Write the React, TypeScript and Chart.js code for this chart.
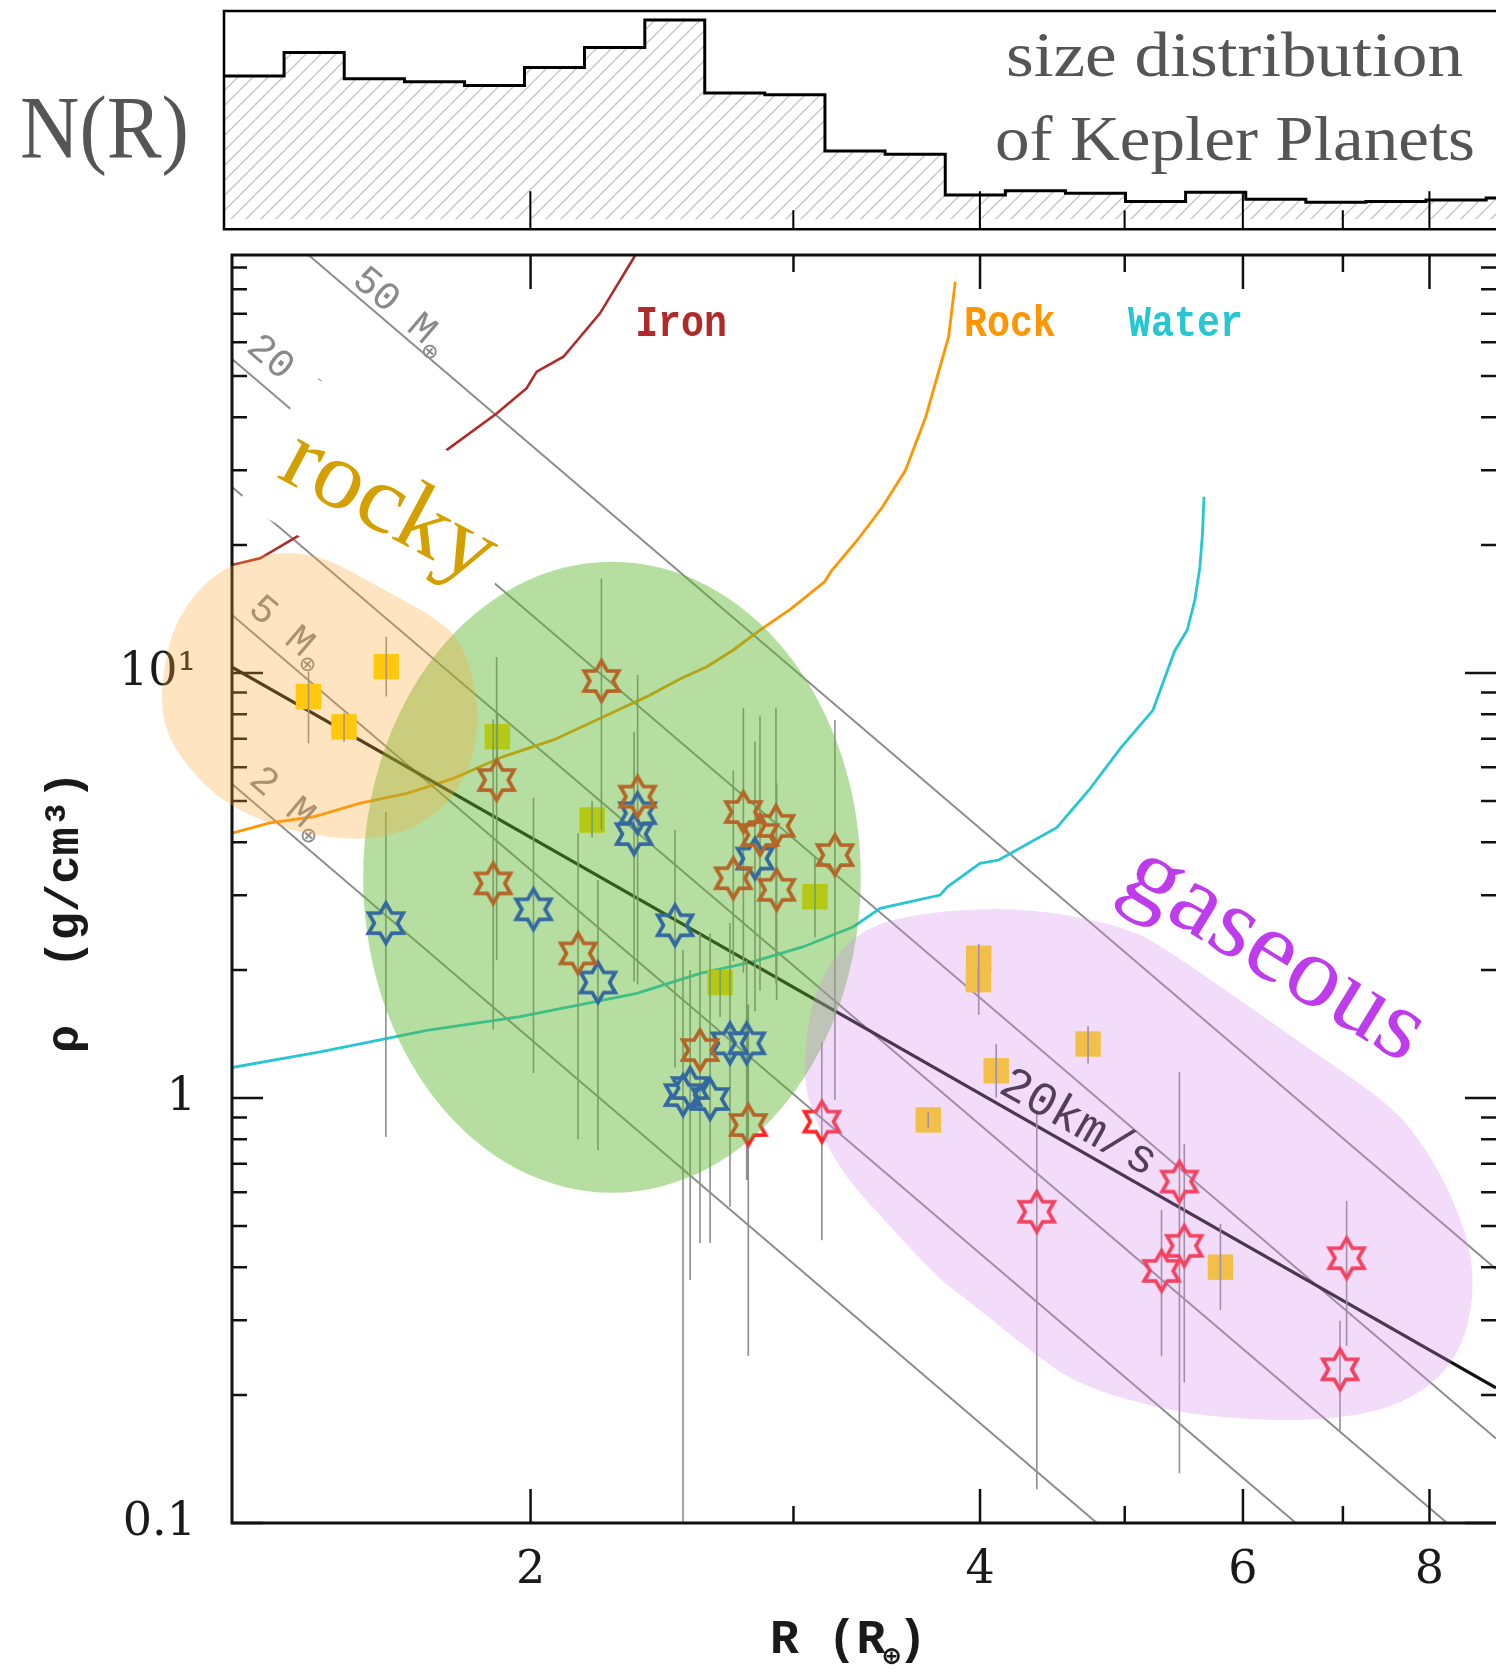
import { useEffect, useRef } from 'react';
import { Chart, registerables } from 'chart.js';

Chart.register(...registerables);

// ---------------- N(R): size distribution of Kepler planets ----------------
// bin edges (R⊕, 0.04 dex bins) and relative counts per bin
const histEdges = [1.247, 1.368, 1.501, 1.647, 1.807, 1.982, 2.174, 2.386, 2.617, 2.871, 3.15, 3.456, 3.792, 4.16, 4.564, 5.007, 5.493, 6.027, 6.612, 7.254, 7.958, 8.731, 9.579];
const histCounts = [65.7, 76.4, 64.4, 63.0, 61.3, 69.5, 78.7, 91.3, 57.8, 57.0, 31.3, 29.8, 11.1, 13.1, 11.9, 8.1, 12.4, 9.2, 7.8, 8.1, 8.8, 9.8];
const histTickValues = [2, 3, 4, 5, 6, 7, 8];

// ---------------- density vs radius ----------------
// yellow squares
const squareR = [1.42, 1.5, 1.601, 1.9, 2.199, 3.101, 2.679, 3.992, 3.99, 4.101, 4.725, 3.693, 5.795];
const squareRho = [8.8, 7.47, 10.35, 7.08, 4.51, 2.976, 1.87, 2.133, 1.899, 1.159, 1.34, 0.888, 0.4];
const squareLow = [6.84, 6.89, 8.8, 6.2, 4.1, 2.39, 1.55, 1.568, 1.75, 1.003, 1.205, 0.85, 0.317];
const squareHigh = [10.07, 8.04, 12.17, 8.1, 5.0, 3.7, 2.0, 2.303, 2.05, 1.34, 1.477, 0.93, 0.505];

// red stars
const redR = [2.231, 1.898, 2.359, 1.888, 2.777, 2.849, 2.92, 2.734, 2.923, 3.198, 2.152, 2.597, 2.798, 3.134, 4.366, 5.44, 5.292, 5.481, 7.04, 6.969];
const redRho = [9.58, 5.6, 5.12, 3.2, 4.71, 4.16, 4.37, 3.29, 3.09, 3.73, 2.19, 1.297, 0.864, 0.88, 0.54, 0.636, 0.392, 0.449, 0.42, 0.23];
const redLow = [4.27, 2.11, 1.85, 1.45, 1.97, 1.79, 1.86, 2.1, 1.7, 0.99, 0.8, 0.456, 0.247, 0.463, 0.12, 0.131, 0.247, 0.214, 0.261, 0.165];
const redHigh = [16.7, 10.9, 9.89, 7.77, 8.28, 7.9, 8.28, 5.9, 5.5, 7.75, 4.2, 2.44, 1.66, 1.35, 0.937, 1.15, 0.545, 0.779, 0.573, 0.299];

// blue stars
const blueR = [1.6, 2.009, 2.359, 2.346, 2.499, 2.827, 2.219, 2.72, 2.791, 2.53, 2.558, 2.638];
const blueRho = [2.58, 2.78, 4.68, 4.18, 2.55, 3.66, 1.87, 1.345, 1.345, 1.016, 1.056, 0.995];
const blueLow = [0.81, 1.145, 2.5, 1.88, 1.18, 1.6, 0.754, 0.554, 0.641, 0.09, 0.373, 0.456];
const blueHigh = [4.71, 5.08, 6.5, 7.27, 4.27, 6.9, 3.26, 2.58, 2.11, 2.23, 2.0, 2.44];

// composition curves
const ironR = [1.262, 1.318, 1.395, 1.758, 1.898, 1.988, 2.019, 2.104, 2.226, 2.344, 2.36];
const ironRho = [17.95, 18.62, 20.93, 33.5, 40.8, 46.8, 51.2, 55.5, 70.2, 94.6, 99];
const rockR = [1.262, 1.338, 1.431, 1.538, 1.653, 1.776, 1.918, 2.072, 2.238, 2.393, 2.518, 2.625, 2.734, 2.849, 2.991, 3.147, 3.184, 3.311, 3.442, 3.566, 3.679, 3.811, 3.85];
const rockRho = [4.2, 4.44, 4.59, 4.94, 5.21, 5.65, 6.36, 6.96, 7.89, 8.8, 9.68, 10.35, 11.33, 12.62, 14.2, 16.4, 17.47, 20.56, 24.62, 30.03, 40.1, 61.84, 83.3];
const waterR = [1.259, 1.446, 1.705, 1.968, 2.181, 2.356, 2.598, 2.82, 3.046, 3.29, 3.429, 3.761, 3.804, 4.0, 4.117, 4.504, 4.732, 4.971, 5.223, 5.4, 5.506, 5.571, 5.615, 5.637, 5.65];
const waterRho = [1.178, 1.284, 1.442, 1.554, 1.67, 1.763, 1.965, 2.093, 2.27, 2.53, 2.795, 3.003, 3.14, 3.566, 3.631, 4.33, 5.306, 6.677, 8.183, 11.27, 12.62, 14.85, 17.79, 21.32, 25.99];

// constant-mass lines (M⊕): end points on the frame
const massValues = [2, 5, 10, 20, 50];
const massLineR = [[1.262, 4.79], [1.262, 6.51], [1.262, 8.22], [1.262, 8.864], [1.42, 8.864]];
const massLineRho = [[5.48, 0.1], [13.7, 0.1], [27.4, 0.1], [54.8, 0.158], [96.3, 0.396]];

// 20 km/s escape-velocity line
const escapeR = [1.262, 8.864];
const escapeRho = [10.33, 0.2079];

// shaded regions
const rockyZoneR = [1.13, 1.148, 1.207, 1.289, 1.377, 1.458, 1.59, 1.734, 1.798, 1.836, 1.846, 1.821, 1.762, 1.677, 1.57, 1.47, 1.354, 1.247, 1.177, 1.139];
const rockyZoneRho = [8.93, 12.62, 16.38, 18.71, 19.27, 18.71, 15.82, 13.38, 11.78, 9.45, 7.5, 5.95, 4.94, 4.33, 4.06, 4.09, 4.33, 4.94, 6.02, 7.29];
const transitionZoneR = [1.545, 3.328];
const transitionZoneRho = [0.5987, 18.28];
const gaseousZoneR = [3.049, 3.078, 3.135, 3.289, 3.536, 4.068, 4.58, 5.056, 5.329, 5.982, 6.725, 7.55, 7.951, 8.282, 8.529, 8.563, 8.424, 8.081, 7.504, 6.798, 6.056, 5.329, 4.656, 4.341, 3.915, 3.761, 3.464, 3.207, 3.062];
const gaseousZoneRho = [1.229, 1.611, 1.947, 2.418, 2.681, 2.815, 2.709, 2.485, 2.242, 1.691, 1.269, 0.9576, 0.7628, 0.5879, 0.4413, 0.3402, 0.2623, 0.2136, 0.185, 0.1747, 0.1747, 0.1835, 0.2112, 0.2512, 0.3366, 0.373, 0.508, 0.688, 0.9892];

// axis ticks
const xTickValues = [2, 4, 6, 8];
const xTickLabels = ['2', '4', '6', '8'];
const xMinorTicks = [3, 5, 7];
const yTickValues = [0.1, 1, 10];
const yTickLabels = ['0.1', '1', '10¹'];
const yMinorTicks = [0.2, 0.3, 0.4, 0.5, 0.6, 0.7, 0.8, 0.9, 2, 3, 4, 5, 6, 7, 8, 9, 20, 30, 40, 50, 60, 70, 80, 90];

const MONO = '"Liberation Mono", "DejaVu Sans Mono", monospace';
const SERIF = '"Liberation Serif", "DejaVu Serif", serif';
const TICK_FONT = '"DejaVu Serif", serif';

const pts = (xs: number[], ys: number[]) => xs.map((x, i) => ({ x, y: ys[i] }));

function paintText(ctx: any, text: string, x: number, y: number, o: any) {
  ctx.save();
  ctx.font = o.font;
  let sx = o.sx ?? 1;
  if (o.width) sx = o.width / ctx.measureText(text).width;
  ctx.translate(x, y);
  if (o.angle) ctx.rotate((o.angle * Math.PI) / 180);
  ctx.scale(sx, 1);
  ctx.fillStyle = o.color;
  ctx.textAlign = o.align ?? 'left';
  ctx.textBaseline = o.baseline ?? 'alphabetic';
  ctx.fillText(text, 0, o.dy ?? 0);
  ctx.restore();
}

function smoothClosed(ctx: any, p: number[][]) {
  const n = p.length;
  const mid = (a: number[], b: number[]) => [(a[0] + b[0]) / 2, (a[1] + b[1]) / 2];
  const m0 = mid(p[n - 1], p[0]);
  ctx.beginPath();
  ctx.moveTo(m0[0], m0[1]);
  for (let i = 0; i < n; i++) {
    const q = p[(i + 1) % n];
    const m = mid(p[i], q);
    ctx.quadraticCurveTo(p[i][0], p[i][1], m[0], m[1]);
  }
  ctx.closePath();
}

function makeStar(color: string) {
  const c = document.createElement('canvas');
  c.width = 48;
  c.height = 48;
  const g = c.getContext('2d') as CanvasRenderingContext2D;
  const outer = 20;
  const inner = 11.6;
  g.beginPath();
  for (let k = 0; k < 12; k++) {
    const a = -Math.PI / 2 + (k * Math.PI) / 6;
    const rad = k % 2 === 0 ? outer : inner;
    const x = 24 + rad * Math.cos(a);
    const y = 24 + rad * Math.sin(a);
    if (k === 0) g.moveTo(x, y);
    else g.lineTo(x, y);
  }
  g.closePath();
  g.lineWidth = 3.7;
  g.lineJoin = 'miter';
  g.strokeStyle = color;
  g.stroke();
  return c;
}

const histDecor = {
  id: 'histDecor',
  afterDraw(chart: any) {
    const { ctx, chartArea: ca } = chart;
    const sx = chart.scales.x;
    ctx.save();
    ctx.strokeStyle = '#000';
    ctx.lineWidth = 2.5;
    ctx.beginPath();
    ctx.moveTo(ca.right + 3, ca.top);
    ctx.lineTo(ca.left, ca.top);
    ctx.lineTo(ca.left, ca.bottom);
    ctx.lineTo(ca.right + 3, ca.bottom);
    ctx.stroke();
    ctx.lineWidth = 2;
    ctx.beginPath();
    histTickValues.forEach((v) => {
      const X = sx.getPixelForValue(v);
      const len = v % 2 === 0 ? 38 : 19;
      ctx.moveTo(X, ca.bottom);
      ctx.lineTo(X, ca.bottom - len);
    });
    ctx.stroke();
    ctx.restore();
    paintText(ctx, 'N(R)', 20, 157, { font: '88px ' + SERIF, color: '#555', width: 169 });
    paintText(ctx, 'size distribution', 1006, 76, { font: '64px ' + SERIF, color: '#555', width: 457 });
    paintText(ctx, 'of Kepler Planets', 995, 160, { font: '64px ' + SERIF, color: '#555', width: 480 });
  },
};

const densityDecor = {
  id: 'densityDecor',
  afterDatasetsDraw(chart: any) {
    const { ctx, chartArea: ca } = chart;
    const px = (v: number) => chart.scales.x.getPixelForValue(v);
    const py = (v: number) => chart.scales.y.getPixelForValue(v);

    // labels of the constant-mass lines
    const lineAt = (idx: number, r: number) => {
      const [r0, r1] = massLineR[idx];
      const [d0, d1] = massLineRho[idx];
      const t = Math.log(r / r0) / Math.log(r1 / r0);
      const d = Math.exp(Math.log(d0) + t * (Math.log(d1) - Math.log(d0)));
      const ang = Math.atan2(py(d1) - py(d0), px(r1) - px(r0));
      return { X: px(r), Y: py(d), ang };
    };
    const massLabel = (mass: number, r: number, off: number) => {
      const idx = massValues.indexOf(mass);
      const { X, Y, ang } = lineAt(idx, r);
      ctx.save();
      ctx.translate(X + off * Math.sin(ang), Y - off * Math.cos(ang));
      ctx.rotate(ang);
      ctx.fillStyle = '#8a8a8a';
      ctx.textBaseline = 'middle';
      ctx.font = '40px ' + MONO;
      const txt = mass + ' M';
      ctx.fillText(txt, 0, 0);
      const w = ctx.measureText(txt).width;
      ctx.font = '26px "DejaVu Sans Mono", "DejaVu Sans", monospace';
      ctx.fillText('⊕', w + 1, 13);
      ctx.restore();
    };
    massLabel(50, 1.506, 17);
    massLabel(20, 1.268, 26);
    massLabel(5, 1.275, 23);
    massLabel(2, 1.278, 22);

    // white band behind the "rocky" label
    const band = [[1.4216, 50.4], [2.0295, 25.3], [1.819, 12.62], [1.2752, 25.16]];
    ctx.save();
    ctx.fillStyle = '#fff';
    ctx.beginPath();
    band.forEach(([r, d], i) => (i === 0 ? ctx.moveTo(px(r), py(d)) : ctx.lineTo(px(r), py(d))));
    ctx.closePath();
    ctx.fill();
    ctx.restore();

    // 20 km/s label along the escape line
    {
      const r = 4.574;
      const t = Math.log(r / escapeR[0]) / Math.log(escapeR[1] / escapeR[0]);
      const d = Math.exp(Math.log(escapeRho[0]) + t * (Math.log(escapeRho[1]) - Math.log(escapeRho[0])));
      const ang = Math.atan2(py(escapeRho[1]) - py(escapeRho[0]), px(escapeR[1]) - px(escapeR[0]));
      const off = 23;
      ctx.save();
      ctx.translate(px(r) + off * Math.sin(ang), py(d) - off * Math.cos(ang));
      ctx.rotate(ang);
      ctx.fillStyle = '#1e1e1e';
      ctx.font = '48px ' + MONO;
      ctx.textAlign = 'center';
      ctx.textBaseline = 'middle';
      ctx.fillText('20km/s', 0, 0);
      ctx.restore();
    }

    // frame and inward ticks
    ctx.save();
    ctx.strokeStyle = '#111';
    ctx.lineWidth = 3;
    ctx.beginPath();
    ctx.moveTo(ca.right + 3, ca.top);
    ctx.lineTo(ca.left, ca.top);
    ctx.lineTo(ca.left, ca.bottom);
    ctx.lineTo(ca.right + 3, ca.bottom);
    ctx.stroke();
    ctx.lineWidth = 2.5;
    ctx.beginPath();
    [...xTickValues, ...xMinorTicks].forEach((v) => {
      const len = xTickValues.includes(v) ? 34 : 17;
      const X = px(v);
      ctx.moveTo(X, ca.bottom);
      ctx.lineTo(X, ca.bottom - len);
      ctx.moveTo(X, ca.top);
      ctx.lineTo(X, ca.top + len);
    });
    [...yTickValues, ...yMinorTicks].forEach((v) => {
      const len = yTickValues.includes(v) ? 31 : 15;
      const Y = py(v);
      ctx.moveTo(ca.left, Y);
      ctx.lineTo(ca.left + len, Y);
      ctx.moveTo(ca.right, Y);
      ctx.lineTo(ca.right - len, Y);
    });
    ctx.stroke();

    // tick labels
    ctx.fillStyle = '#1a1a1a';
    ctx.font = '46px ' + TICK_FONT;
    ctx.textAlign = 'center';
    ctx.textBaseline = 'middle';
    xTickValues.forEach((v, i) => ctx.fillText(xTickLabels[i], px(v), ca.bottom + 48));
    ctx.textAlign = 'right';
    yTickValues.forEach((v, i) => ctx.fillText(yTickLabels[i], ca.left - 36, py(v)));

    // axis titles
    ctx.save();
    ctx.translate(66, ca.top + 657);
    ctx.rotate(-Math.PI / 2);
    ctx.font = 'bold 47px ' + MONO;
    ctx.textAlign = 'center';
    ctx.textBaseline = 'middle';
    ctx.fillText('ρ  (g/cm³)', 0, 0);
    ctx.restore();

    ctx.font = 'bold 48px ' + MONO;
    ctx.textAlign = 'left';
    ctx.textBaseline = 'alphabetic';
    const xt0 = 770;
    const yb = ca.bottom + 130;
    const part1 = 'R (R';
    ctx.fillText(part1, xt0, yb);
    const w1 = ctx.measureText(part1).width;
    ctx.font = 'bold 28px "DejaVu Sans Mono", "DejaVu Sans", monospace';
    ctx.fillText('⊕', xt0 + w1 - 2, yb + 12);
    const w2 = ctx.measureText('⊕').width;
    ctx.font = 'bold 48px ' + MONO;
    ctx.fillText(')', xt0 + w1 + w2 - 4, yb);
    ctx.restore();

    // shaded regions
    ctx.save();
    const l = px(transitionZoneR[0]);
    const r = px(transitionZoneR[1]);
    const t = py(transitionZoneRho[1]);
    const b = py(transitionZoneRho[0]);
    ctx.fillStyle = 'rgba(91, 182, 44, 0.45)';
    ctx.beginPath();
    ctx.ellipse((l + r) / 2, (t + b) / 2, (r - l) / 2, (b - t) / 2, 0, 0, Math.PI * 2);
    ctx.fill();
    ctx.fillStyle = 'rgba(255, 165, 50, 0.3)';
    smoothClosed(ctx, rockyZoneR.map((v, i) => [px(v), py(rockyZoneRho[i])]));
    ctx.fill();
    ctx.fillStyle = 'rgba(212, 138, 238, 0.3)';
    smoothClosed(ctx, gaseousZoneR.map((v, i) => [px(v), py(gaseousZoneRho[i])]));
    ctx.fill();
    ctx.restore();

    // curve names
    const curveFont = 'bold 44px ' + MONO;
    paintText(ctx, 'Iron', px(2.35), py(62), { font: curveFont, color: '#b02a2a', sx: 0.87 });
    paintText(ctx, 'Rock', px(3.902), py(62), { font: curveFont, color: '#ff9500', sx: 0.87 });
    paintText(ctx, 'Water', px(5.026), py(62), { font: curveFont, color: '#26c6d2', sx: 0.87 });

    // region names
    paintText(ctx, 'rocky', px(1.603), py(24.06), { font: '96px ' + SERIF, color: '#d4a000', sx: 1.05, angle: 28, align: 'center', dy: 22 });
    paintText(ctx, 'gaseous', px(6.284), py(2.147), { font: '100px ' + SERIF, color: '#be3ceb', sx: 1.06, angle: 31.4, align: 'center', dy: 23 });
  },
};

export default function App() {
  const histRef = useRef<HTMLCanvasElement>(null);
  const mainRef = useRef<HTMLCanvasElement>(null);

  useEffect(() => {
    document.body.style.margin = '0';
    document.documentElement.style.overflow = 'hidden';
    const histCanvas = histRef.current as HTMLCanvasElement;
    const mainCanvas = mainRef.current as HTMLCanvasElement;

    // diagonal hatching for the histogram
    const tile = document.createElement('canvas');
    tile.width = 15;
    tile.height = 15;
    const tg = tile.getContext('2d') as CanvasRenderingContext2D;
    tg.strokeStyle = '#c4c4c4';
    tg.lineWidth = 1.3;
    for (const dx of [-15, 0, 15]) {
      tg.beginPath();
      tg.moveTo(dx, 15);
      tg.lineTo(dx + 15, 0);
      tg.stroke();
    }
    const hatch = (histCanvas.getContext('2d') as CanvasRenderingContext2D).createPattern(tile, 'repeat');

    const histData = histCounts.map((c, i) => ({ x: histEdges[i], y: c }));
    histData.push({ x: histEdges[histEdges.length - 1], y: histCounts[histCounts.length - 1] });

    const hist = new Chart(histCanvas, {
      type: 'scatter',
      data: {
        datasets: [
          {
            data: histData,
            showLine: true,
            stepped: 'before',
            pointRadius: 0,
            borderColor: '#000',
            borderWidth: 3,
            fill: 'origin',
            backgroundColor: hatch as any,
          } as any,
        ],
      },
      options: {
        responsive: false,
        animation: false,
        devicePixelRatio: 1,
        events: [],
        layout: { autoPadding: false, padding: { left: 224, top: 11, right: 0, bottom: 10.7 } },
        plugins: { legend: { display: false }, tooltip: { enabled: false } },
        scales: {
          x: { type: 'logarithmic', min: 1.247, max: 8.865, display: false, bounds: 'data' },
          y: { type: 'linear', min: -4.58, max: 95.42, display: false },
        },
      } as any,
      plugins: [histDecor],
    });

    const errorData: any[] = [];
    const addBars = (rs: number[], lo: number[], hi: number[]) =>
      rs.forEach((r, i) => {
        errorData.push({ x: r, y: lo[i] }, { x: r, y: hi[i] }, { x: r, y: null });
      });
    addBars(squareR, squareLow, squareHigh);
    addBars(redR, redLow, redHigh);
    addBars(blueR, blueLow, blueHigh);

    const curve = (xs: number[], ys: number[], color: string, width: number, order: number) => ({
      data: pts(xs, ys),
      showLine: true,
      pointRadius: 0,
      borderColor: color,
      borderWidth: width,
      order,
    });

    const main = new Chart(mainCanvas, {
      type: 'scatter',
      data: {
        datasets: [
          { label: 'red', data: pts(redR, redRho), pointStyle: makeStar('#ff2323'), pointRadius: 20, order: 1 },
          { label: 'blue', data: pts(blueR, blueRho), pointStyle: makeStar('#1428ff'), pointRadius: 20, order: 2 },
          { label: 'errors', data: errorData, showLine: true, pointRadius: 0, borderColor: '#8f8f8f', borderWidth: 1.6, order: 3 },
          { label: 'squares', data: pts(squareR, squareRho), pointStyle: 'rect', pointRadius: 18, backgroundColor: '#ffd700', borderWidth: 0, order: 4 },
          { label: '20 km/s', ...curve(escapeR, escapeRho, '#121212', 3.2, 5) },
          { label: 'Iron', ...curve(ironR, ironRho, '#b02a2a', 2.6, 6) },
          { label: 'Rock', ...curve(rockR, rockRho, '#ff9500', 2.8, 7) },
          { label: 'Water', ...curve(waterR, waterRho, '#26c6d2', 2.8, 8) },
          ...massLineR.map((rs, i) => ({ label: massValues[i] + ' M', ...curve(rs, massLineRho[i], '#8c8c8c', 2, 10 + i) })),
        ] as any,
      },
      options: {
        responsive: false,
        animation: false,
        devicePixelRatio: 1,
        events: [],
        layout: { autoPadding: false, padding: { left: 232, top: 15, right: 0, bottom: 151 } },
        plugins: { legend: { display: false }, tooltip: { enabled: false } },
        scales: {
          x: { type: 'logarithmic', min: 1.262, max: 8.864, display: false, bounds: 'data' },
          y: { type: 'logarithmic', min: 0.1, max: 96.3, display: false, bounds: 'data' },
        },
      } as any,
      plugins: [densityDecor],
    });

    return () => {
      hist.destroy();
      main.destroy();
    };
  }, []);

  return (
    <div style={{ position: 'relative', width: 1496, height: 1674, background: '#fff', overflow: 'hidden' }}>
      <canvas ref={histRef} width={1496} height={240} style={{ position: 'absolute', left: 0, top: 0 }} />
      <canvas ref={mainRef} width={1496} height={1434} style={{ position: 'absolute', left: 0, top: 240 }} />
    </div>
  );
}
